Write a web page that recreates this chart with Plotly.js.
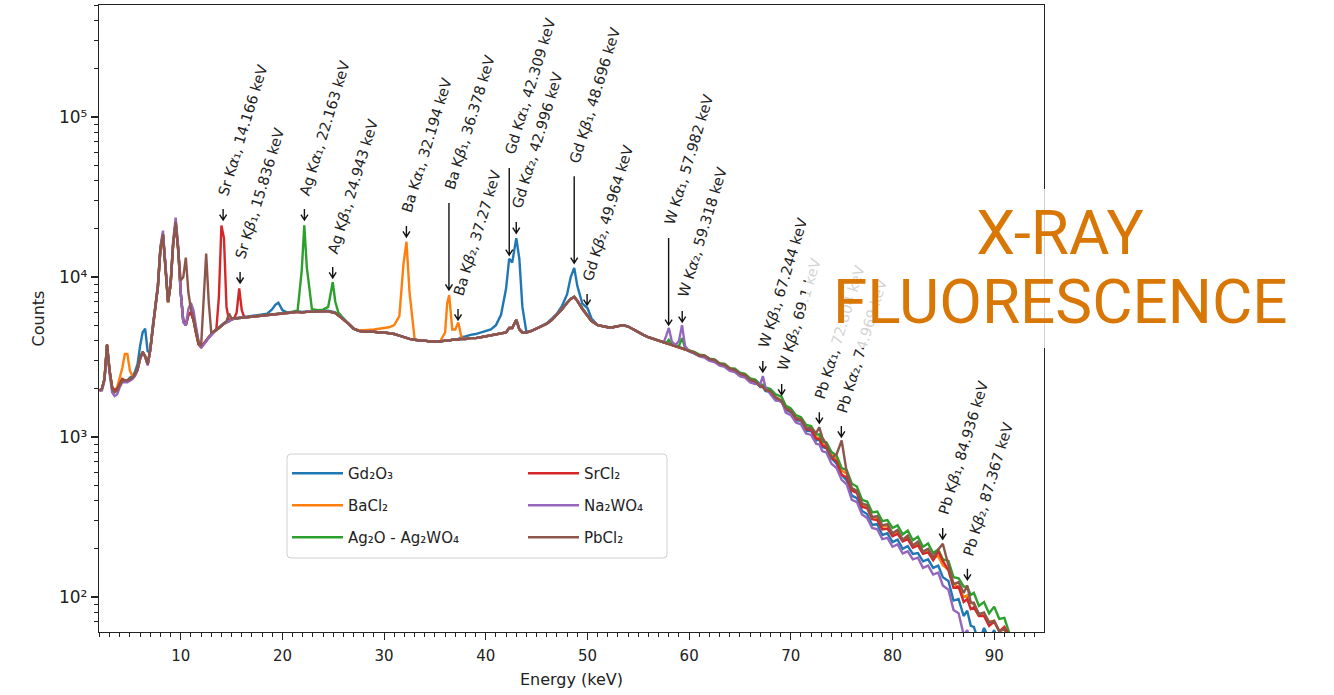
<!DOCTYPE html>
<html>
<head>
<meta charset="utf-8">
<script src="https://cdn.plot.ly/plotly-3.0.1.min.js"></script>
<style>
html,body{margin:0;padding:0;background:#ffffff;}
#chart{width:1334px;height:695px;}
</style>
</head>
<body>
<div id="chart"></div>
<script>
// ---------------- DATA ----------------
const energy = [
2.0,2.25,2.5,2.75,3.0,3.25,3.5,3.75,4.0,4.25,
4.5,4.75,5.0,5.25,5.5,5.75,6.0,6.25,6.5,6.75,
7.0,7.25,7.5,7.75,8.0,8.25,8.5,8.75,9.0,9.25,
9.5,9.75,10.0,10.25,10.5,10.75,11.0,11.25,11.5,11.75,
12.0,12.25,12.5,12.75,13.0,13.25,13.5,13.75,14.0,14.25,
14.5,14.75,15.0,15.25,15.5,15.75,16.0,16.25,16.5,17.0,
17.5,18.0,18.5,19.0,19.3,19.6,20.0,20.5,21.0,21.5,
21.9,22.15,22.4,22.9,23.5,24.0,24.5,24.7,24.95,25.2,
25.5,26.0,26.5,27.0,27.5,28.0,28.5,29.0,29.5,30.0,
30.5,31.0,31.5,31.9,32.2,32.5,33.0,33.5,34.0,34.5,
35.0,35.5,36.0,36.2,36.4,36.7,37.0,37.3,37.6,38.0,
38.5,39.0,39.5,40.0,40.5,41.0,41.5,42.0,42.3,42.6,
43.0,43.3,43.6,44.0,44.5,45.0,45.5,46.0,46.5,47.0,
47.5,48.0,48.35,48.7,49.0,49.5,50.0,50.4,51.0,51.5,
52.0,52.5,53.0,53.5,54.0,54.5,55.0,55.5,56.0,56.5,
57.0,57.5,57.75,58.0,58.3,58.65,59.0,59.3,59.6,60.0,
60.5,61.0,61.5,62.0,62.5,63.0,63.5,64.0,64.5,65.0,
65.5,66.0,66.5,67.0,67.25,67.5,68.0,68.5,69.1,69.5,
70.0,70.5,71.0,71.5,72.0,72.5,72.8,73.1,73.5,74.0,
74.5,75.0,75.5,76.0,76.5,77.0,77.5,78.0,78.5,79.0,
79.5,80.0,80.5,81.0,81.5,82.0,82.5,83.0,83.5,84.0,
84.5,84.95,85.5,86.0,86.5,87.0,87.35,87.7,88.0,88.5,
89.0,89.5,90.0,90.5,91.0,91.5,92.0
];

const gd2o3 = [
1950,2000,2300,3750,2600,2050,1950,2000,2150,2300,
2250,2250,2350,2400,2550,2850,3700,4500,4750,3400,
3500,5000,6400,8600,14800,18300,11800,6900,8900,15800,
21800,14800,7900,5300,5000,5800,6000,5400,4500,3800,
3650,3800,4000,4200,4400,4550,4700,4850,5000,5150,
5250,5350,5450,5500,5550,5600,5600,5650,5650,5700,
5750,5800,5900,6300,6700,6900,6200,6000,6050,6100,
6050,6100,6100,6100,6150,6150,6150,6100,6050,6000,
5800,5500,5100,4750,4600,4550,4550,4550,4500,4500,
4450,4400,4300,4200,4150,4100,4050,4000,4000,3950,
3950,3950,4000,4000,4000,4050,4050,4100,4200,4250,
4350,4400,4500,4600,4700,5000,5800,8500,13000,12300,
17500,13000,6500,4500,4600,4750,4950,5150,5500,5900,
6600,7800,10000,11400,8800,6800,6400,5500,5000,4900,
4850,4850,4950,5000,4900,4700,4500,4350,4200,4100,
4000,3900,3850,3780,3750,3700,3650,3600,3520,3450,
3330,3220,3190,3050,2990,2840,2800,2660,2620,2460,
2430,2260,2210,2050,2060,1940,1910,1740,1650,1480,
1430,1270,1260,1090,1090,950,965,865,850,735,
680,580,535,430,415,345,330,282,285,244,
250,220,228,200,208,186,188,167,172,152,
157,133,126,95,97,76,82,66,65,52,
64,55,62,52,60,48,45
];

const bacl2 = [
1950,2000,2300,3750,2600,2050,1950,2050,2350,2700,
3300,3300,2600,2400,2450,2650,3100,3400,3200,2850,
3500,4950,6400,8600,14800,18300,11800,6900,8900,15800,
21800,14800,7900,5300,5000,5800,6000,5400,4500,3800,
3650,3800,4000,4200,4400,4550,4650,4800,4950,5100,
5200,5300,5450,5500,5500,5550,5550,5600,5600,5650,
5700,5750,5800,5850,5850,5900,5900,5950,6000,6050,
6000,6050,6050,6050,6100,6100,6100,6050,6000,5950,
5750,5450,5100,4750,4650,4650,4700,4700,4750,4800,
4850,5000,5700,12000,16600,8000,4100,4000,4000,3950,
3950,3950,4500,6800,7700,4700,4700,5200,4200,4100,
4150,4150,4200,4250,4300,4350,4400,4500,4800,4800,
5400,4700,4500,4500,4600,4750,4900,5100,5400,5800,
6300,6900,7300,7500,7100,6300,5700,5300,5000,4900,
4850,4850,4900,5000,4900,4700,4500,4350,4200,4100,
4000,3900,3850,3800,3750,3700,3650,3600,3550,3450,
3380,3240,3210,3080,3030,2860,2830,2680,2630,2490,
2440,2280,2240,2080,2090,1980,1940,1770,1690,1520,
1470,1320,1280,1150,1130,985,995,905,875,775,
735,615,590,470,455,380,365,318,312,274,
280,248,258,227,236,210,218,190,197,175,
180,158,148,122,115,100,102,92,90,78,
79,70,71,61,63,54,52
];

const ag2oAg2wo4 = [
1950,2000,2300,3750,2600,2050,1950,2000,2150,2300,
2250,2250,2300,2350,2450,2650,3100,3400,3200,2850,
3500,5000,6500,8700,15000,18500,12000,7000,9000,16000,
22000,15000,8000,5300,5000,5800,6000,5400,4500,3800,
3650,3800,4000,4200,4400,4550,4650,4800,4950,5100,
5200,5300,5450,5500,5500,5550,5550,5600,5600,5650,
5700,5750,5800,5850,5850,5900,5950,6000,6050,6200,
11000,21000,11500,6300,6200,6250,6500,7600,9300,7000,
6000,5500,5100,4750,4600,4550,4550,4550,4500,4500,
4450,4400,4300,4200,4150,4100,4050,4000,4000,3950,
3950,3950,4000,4000,4000,4050,4050,4050,4100,4100,
4150,4150,4200,4250,4300,4350,4400,4500,4800,4800,
5400,4700,4500,4500,4600,4750,4900,5100,5400,5800,
6300,6900,7300,7550,7100,6300,5700,5300,5000,4900,
4850,4850,4900,5000,4900,4700,4500,4350,4200,4100,
4000,3900,3850,4050,3800,3720,3700,4150,3600,3480,
3400,3270,3230,3090,3050,2890,2860,2690,2670,2520,
2480,2320,2280,2130,2120,2040,1990,1850,1780,1570,
1510,1370,1330,1190,1170,1035,1040,935,925,805,
765,640,620,510,490,405,395,338,342,298,
302,270,280,246,260,226,238,206,216,188,
198,172,168,133,131,116,116,103,106,88,
93,79,87,73,74,59,56
];

const srcl2 = [
1950,2000,2300,3750,2600,2050,1950,2000,2150,2300,
2250,2250,2300,2350,2450,2650,3100,3400,3200,2850,
3500,5000,6500,8700,15000,18500,12000,7000,9000,16000,
22000,15000,8000,5300,5000,5800,6000,5400,4500,3800,
3650,3800,4000,4200,4400,4550,4700,7500,21000,17500,
6500,5300,5450,5500,6000,8500,6200,5600,5600,5650,
5700,5750,5800,5850,5850,5900,5900,5950,6000,6050,
6000,6050,6050,6050,6100,6100,6100,6050,6000,5950,
5750,5450,5100,4750,4600,4550,4550,4550,4500,4500,
4450,4400,4300,4200,4150,4100,4050,4000,4000,3950,
3950,3950,4000,4000,4000,4050,4050,4050,4100,4100,
4150,4150,4200,4250,4300,4350,4400,4500,4800,4800,
5400,4700,4500,4500,4600,4750,4900,5100,5400,5800,
6300,6900,7300,7500,7100,6300,5700,5300,5000,4900,
4850,4850,4900,5000,4900,4700,4500,4350,4200,4100,
4000,3900,3850,3800,3750,3700,3650,3600,3550,3450,
3360,3230,3200,3060,3010,2850,2810,2670,2610,2480,
2440,2270,2230,2070,2070,1970,1910,1760,1660,1500,
1450,1290,1290,1120,1110,975,970,885,860,745,
705,580,560,462,447,365,360,306,302,264,
268,240,248,222,230,203,210,186,190,170,
193,168,147,114,116,93,97,84,86,76,
76,66,70,61,65,57,58
];

const na2wo4 = [
1950,1950,2250,3700,2500,1900,1800,1850,2050,2200,
2200,2200,2250,2300,2400,2600,3050,3350,3150,2800,
3450,5000,6600,8900,15500,19500,12200,7000,9200,16800,
23500,15500,8000,5200,5000,6300,6900,6200,4900,4000,
3600,3750,3950,4150,4350,4500,4650,4800,4950,5100,
5200,5300,5450,5500,5500,5550,5550,5600,5600,5650,
5700,5750,5800,5850,5850,5900,5900,5950,6000,6050,
6000,6050,6050,6050,6100,6100,6100,6050,6000,5950,
5750,5450,5100,4750,4600,4550,4550,4550,4500,4500,
4450,4400,4300,4200,4150,4100,4050,4000,4000,3950,
3950,3950,4000,4000,4000,4050,4050,4050,4100,4100,
4150,4150,4200,4250,4300,4350,4400,4500,4800,4800,
5400,4700,4500,4500,4600,4750,4900,5100,5400,5800,
6300,6900,7300,7500,7100,6300,5700,5300,5000,4900,
4850,4850,4900,5000,4900,4700,4500,4350,4200,4100,
4000,3900,4300,4800,3950,3750,4000,5000,3700,3420,
3330,3190,3140,2990,2940,2790,2740,2590,2540,2390,
2350,2190,2140,2150,2400,2050,1850,1690,1680,1420,
1370,1230,1200,1050,1030,905,900,815,800,680,
640,540,505,405,392,328,312,270,265,230,
234,206,213,187,193,172,176,152,157,138,
142,118,111,83,79,58,62,52,53,45,
47,40,42,36,38,33,32
];

const pbcl2 = [
1950,2000,2300,3800,2600,2000,1900,1950,2100,2250,
2250,2250,2300,2350,2450,2650,3100,3400,3200,2850,
3500,5000,6500,8700,15000,18500,12000,7000,9000,16000,
22000,15000,9500,10000,13200,8000,6300,5500,4600,3900,
3700,7500,14000,7000,4500,4550,4650,4800,4950,5100,
5300,5900,5500,5550,5500,5550,5550,5600,5600,5650,
5700,5750,5800,5850,5850,5900,5900,5950,6000,6050,
6000,6050,6050,6050,6100,6100,6100,6050,6000,5950,
5750,5450,5100,4750,4600,4550,4550,4550,4500,4500,
4450,4400,4300,4200,4150,4100,4050,4000,4000,3950,
3950,3950,4000,4000,4000,4050,4050,4050,4100,4100,
4150,4150,4200,4250,4300,4350,4400,4500,4800,4800,
5400,4700,4500,4500,4600,4750,4900,5100,5400,5800,
6300,6900,7300,7500,7100,6300,5700,5300,5000,4900,
4850,4850,4900,5000,4900,4700,4500,4350,4200,4100,
4000,3900,3850,3800,3750,3700,3650,3600,3550,3450,
3350,3220,3230,3070,3020,2870,2820,2670,2630,2490,
2430,2270,2230,2070,2080,1970,1930,1770,1680,1510,
1460,1310,1290,1140,1130,1060,1150,990,900,740,
780,950,600,480,460,385,375,315,320,280,
285,250,262,228,242,210,222,192,200,178,
198,215,158,120,124,106,118,92,92,78,
80,69,71,61,63,55,54
];

const seriesNames = ['Gd₂O₃', 'BaCl₂', 'Ag₂O - Ag₂WO₄', 'SrCl₂', 'Na₂WO₄', 'PbCl₂'];

const lineLabels = [
  'Sr K<i>α</i>₁, 14.166 keV',
  'Sr K<i>β</i>₁, 15.836 keV',
  'Ag K<i>α</i>₁, 22.163 keV',
  'Ag K<i>β</i>₁, 24.943 keV',
  'Ba K<i>α</i>₁, 32.194 keV',
  'Ba K<i>β</i>₁, 36.378 keV',
  'Ba K<i>β</i>₂, 37.27 keV',
  'Gd K<i>α</i>₁, 42.309 keV',
  'Gd K<i>α</i>₂, 42.996 keV',
  'Gd K<i>β</i>₁, 48.696 keV',
  'Gd K<i>β</i>₂, 49.964 keV',
  'W K<i>α</i>₁, 57.982 keV',
  'W K<i>α</i>₂, 59.318 keV',
  'W K<i>β</i>₁, 67.244 keV',
  'W K<i>β</i>₂, 69.1 keV',
  'Pb K<i>α</i>₁, 72.804 keV',
  'Pb K<i>α</i>₂, 74.969 keV',
  'Pb K<i>β</i>₁, 84.936 keV',
  'Pb K<i>β</i>₂, 87.367 keV'
];
const lineEnergies = [14.166,15.836,22.163,24.943,32.194,36.378,37.27,42.309,42.996,48.696,49.964,57.982,59.318,67.244,69.1,72.804,74.969,84.936,87.367];
const arrowTipCounts = [22700,9170,22700,9860,17800,8300,5390,13700,18800,12200,6680,5010,5230,2550,1830,1220,1000,230,128];

const yTickValues = [100, 1000, 10000, 100000];
const yTickLabels = ['10²', '10³', '10⁴', '10⁵'];

const overlayLines = ['X-RAY', 'FLUORESCENCE'];

// ---------------- STYLE ----------------
const colors = ['#1f77b4','#ff7f0e','#2ca02c','#d62728','#9467bd','#8c564b'];
const longArrowIdx = [5,7,9,11];
const W = 1334, H = 695;
const M = {l:99, r:290, t:5, b:63};
const pw = W - M.l - M.r, ph = H - M.t - M.b;
const px2paperX = p => (p - M.l) / pw;
const px2paperY = p => (H - M.b - p) / ph;

const series = [gd2o3, bacl2, ag2oAg2wo4, srcl2, na2wo4, pbcl2];
const traces = series.map((ys, i) => ({
  type: 'scatter', mode: 'lines',
  x: energy, y: ys,
  name: seriesNames[i],
  line: {color: colors[i], width: 2.4},
  legend: i < 3 ? 'legend' : 'legend2',
  legendgroup: 'g' + i,
  hoverinfo: 'skip'
}));

const shapes = [];
const annotations = [];
lineEnergies.forEach((e, i) => {
  const len = longArrowIdx.includes(i) ? 87 : 11;
  shapes.push({
    type: 'path', xref: 'x', yref: 'y',
    xsizemode: 'pixel', ysizemode: 'pixel',
    xanchor: e, yanchor: arrowTipCounts[i],
    path: `M0,${len} L0,0 M-3.5,5.5 L0,0 L3.5,5.5`,
    line: {color: '#111', width: 1.4},
    layer: 'above'
  });
  annotations.push({
    x: e, y: Math.log10(arrowTipCounts[i]), xref: 'x', yref: 'y',
    text: lineLabels[i],
    showarrow: false, textangle: -73,
    xanchor: 'left', yanchor: 'bottom',
    xshift: -10, yshift: len + 9,
    font: {family: 'DejaVu Sans', size: 14.5, color: '#222'}
  });
});

// translucent white panel carrying the first title line, then the second line
const panelPad = 7;
annotations.push({
  xref: 'paper', yref: 'paper',
  x: px2paperX(806), y: px2paperY(189),
  xanchor: 'left', yanchor: 'top',
  text: overlayLines[0], showarrow: false,
  width: 508 - 2 * panelPad, height: 159 - 2 * panelPad,
  align: 'center', valign: 'top',
  bgcolor: 'rgba(255,255,255,0.8)', borderpad: panelPad, borderwidth: 0,
  font: {family: 'Roboto', size: 62, color: '#D97706'}
});
annotations.push({
  xref: 'paper', yref: 'paper',
  x: px2paperX(1060), y: px2paperY(301),
  xanchor: 'center', yanchor: 'middle',
  text: overlayLines[1], showarrow: false,
  font: {family: 'Roboto', size: 62, color: '#D97706'}
});

// legend frame (rounded rectangle)
const fx0 = px2paperX(287), fx1 = px2paperX(667);
const fy1 = px2paperY(454), fy0 = px2paperY(558);
const rx = 4 / pw, ry = 4 / ph;
const framePath =
  `M${fx0+rx},${fy1} L${fx1-rx},${fy1} Q${fx1},${fy1} ${fx1},${fy1-ry} ` +
  `L${fx1},${fy0+ry} Q${fx1},${fy0} ${fx1-rx},${fy0} ` +
  `L${fx0+rx},${fy0} Q${fx0},${fy0} ${fx0},${fy0+ry} ` +
  `L${fx0},${fy1-ry} Q${fx0},${fy1} ${fx0+rx},${fy1} Z`;
shapes.unshift({
  type: 'path', xref: 'paper', yref: 'paper', path: framePath,
  fillcolor: 'rgba(255,255,255,0.8)', line: {color: '#d0d0d0', width: 1}, layer: 'above'
});

const legendCommon = {
  xanchor: 'left', yanchor: 'top',
  bgcolor: 'rgba(0,0,0,0)', borderwidth: 0,
  font: {family: 'DejaVu Sans', size: 15, color: '#222'},
  tracegroupgap: 9.5, itemwidth: 51
};

const tickFont = {family: 'DejaVu Sans', size: 15, color: '#222'};

const layout = {
  width: W, height: H,
  margin: {l: M.l, r: M.r, t: M.t, b: M.b, pad: 0},
  paper_bgcolor: '#ffffff', plot_bgcolor: '#ffffff',
  font: {family: 'DejaVu Sans', color: '#222'},
  showlegend: true,
  legend: Object.assign({x: px2paperX(287), y: px2paperY(457)}, legendCommon),
  legend2: Object.assign({x: px2paperX(523), y: px2paperY(457)}, legendCommon),
  xaxis: {
    range: [1.96, 94.9], dtick: 10, tick0: 0,
    ticks: 'outside', ticklen: 7, tickwidth: 1.2, tickcolor: '#222',
    ticklabelstandoff: 3,
    showline: true, mirror: true, linecolor: '#222', linewidth: 1.2,
    showgrid: false, zeroline: false,
    tickfont: tickFont,
    minor: {ticks: 'outside', ticklen: 3.5, tickwidth: 1, tickcolor: '#222', dtick: 1, showgrid: false},
    title: {text: 'Energy (keV)', font: {family: 'DejaVu Sans', size: 16, color: '#222'}, standoff: 9}
  },
  yaxis: {
    type: 'log', range: [1.781, 5.70],
    tickmode: 'array', tickvals: yTickValues, ticktext: yTickLabels,
    ticks: 'outside', ticklen: 7, tickwidth: 1.2, tickcolor: '#222',
    showline: true, mirror: true, linecolor: '#222', linewidth: 1.2,
    showgrid: false, zeroline: false,
    tickfont: {family: 'DejaVu Sans', size: 17, color: '#222'},
    minor: {ticks: 'outside', ticklen: 3.5, tickwidth: 1, tickcolor: '#222', dtick: 'D1', showgrid: false},
    title: {text: 'Counts', font: {family: 'DejaVu Sans', size: 16, color: '#222'}, standoff: 10}
  },
  shapes: shapes,
  annotations: annotations
};

Plotly.newPlot('chart', traces, layout, {displayModeBar: false, staticPlot: true});
</script>
</body>
</html>
